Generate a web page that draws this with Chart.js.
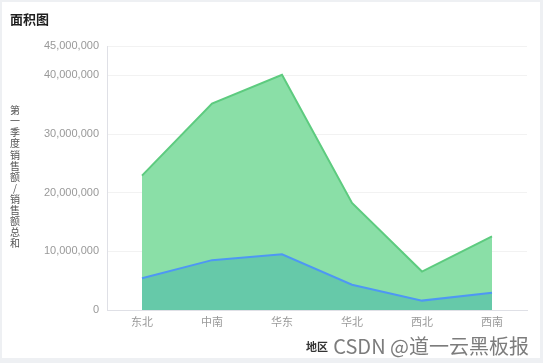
<!DOCTYPE html>
<html>
<head>
<meta charset="utf-8">
<script src="https://cdn.jsdelivr.net/npm/chart.js@4/dist/chart.umd.min.js"></script>
<style>
  html, body { margin: 0; padding: 0; background: #eef0f3; }
  #card { position: absolute; left: 2px; top: 2px; width: 538px; height: 356px; background: #fff; }
  #box { position: absolute; left: 0; top: 0; width: 538px; height: 356px; }
  #titulo { position: absolute; left: 8px; top: 7px; font: bold 13px 'Noto Sans CJK SC', sans-serif; color: #1f1f1f; }
  #marca { position: absolute; right: 11px; top: 329px; font: 20px 'Noto Sans CJK SC', 'Liberation Sans', sans-serif; color: #666; opacity: 0.85; }
</style>
</head>
<body>
<div id="card">
  <div id="box"><canvas id="graficoArea"></canvas></div>
  <div id="titulo">面积图</div>
  <div id="marca">CSDN @道一云黑板报</div>
</div>
<script>
/* datos */
var regiones = ['东北', '中南', '华东', '华北', '西北', '西南'];
var ventasQ1 = [5400000, 8500000, 9500000, 4300000, 1600000, 2950000];
var ventasTotal = [22900000, 35200000, 40100000, 18250000, 6550000, 12550000];
var marcasY = [0, 10000000, 20000000, 30000000, 40000000, 45000000];
var tituloY = '第一季度销售额/销售额总和';

Chart.defaults.font.family = "'Liberation Sans', 'Noto Sans CJK SC', sans-serif";
Chart.defaults.font.size = 11;
Chart.defaults.color = '#999';

/* título del eje Y con caracteres en vertical, uno debajo de otro */
var tituloVertical = {
    id: 'tituloVertical',
    afterDraw: function (chart) {
        var ctx = chart.ctx;
        var area = chart.chartArea;
        var chars = Array.from(tituloY);
        var paso = 11.1;
        var centro = (area.top + area.bottom) / 2 - 1;
        var y0 = centro - paso * (chars.length - 1) / 2;
        ctx.save();
        ctx.font = "10px 'Noto Sans CJK SC', sans-serif";
        ctx.fillStyle = '#555';
        ctx.textAlign = 'center';
        ctx.textBaseline = 'middle';
        chars.forEach(function (c, i) {
            ctx.fillText(c, 13, y0 + i * paso);
        });
        ctx.restore();
    }
};

function crearGraficoArea() {
    var canvas = document.getElementById('graficoArea');
    new Chart(canvas, {
        type: 'line',
        data: {
            labels: regiones,
            datasets: [{
                label: '第一季度销售额',
                data: ventasQ1,
                borderColor: '#4e97f4',
                backgroundColor: '#66c9a9',
                borderWidth: 2,
                fill: 'origin',
                pointRadius: 0,
                tension: 0
            }, {
                label: '销售额总和',
                data: ventasTotal,
                borderColor: '#5dcb7f',
                backgroundColor: '#8adfa7',
                borderWidth: 2,
                fill: 'origin',
                pointRadius: 0,
                tension: 0
            }]
        },
        options: {
            responsive: true,
            maintainAspectRatio: false,
            animation: false,
            layout: { padding: { top: 44, right: 13, bottom: 0, left: 0 } },
            plugins: {
                legend: { display: false },
                tooltip: { enabled: false }
            },
            scales: {
                x: {
                    offset: true,
                    grid: { display: false, drawTicks: false },
                    border: { color: '#dfe0e6' },
                    ticks: { padding: 6, color: '#999' },
                    title: { display: true, text: '地区', color: '#333', font: { size: 11, weight: 'bold' }, padding: { top: 4, bottom: 3 } },
                    afterFit: function (s) { s.height = 48; }
                },
                y: {
                    min: 0,
                    max: marcasY[marcasY.length - 1],
                    ticks: {
                        padding: 8,
                        color: '#999',
                        callback: function (v) { return v.toLocaleString('en-US'); }
                    },
                    afterBuildTicks: function (s) {
                        s.ticks = marcasY.map(function (v) { return { value: v }; });
                    },
                    grid: { color: '#f2f2f2', drawTicks: false },
                    border: { color: '#dfe0e6' },
                    afterFit: function (s) { s.width = 105; }
                }
            }
        },
        plugins: [tituloVertical]
    });
}

crearGraficoArea();
</script>
</body>
</html>
